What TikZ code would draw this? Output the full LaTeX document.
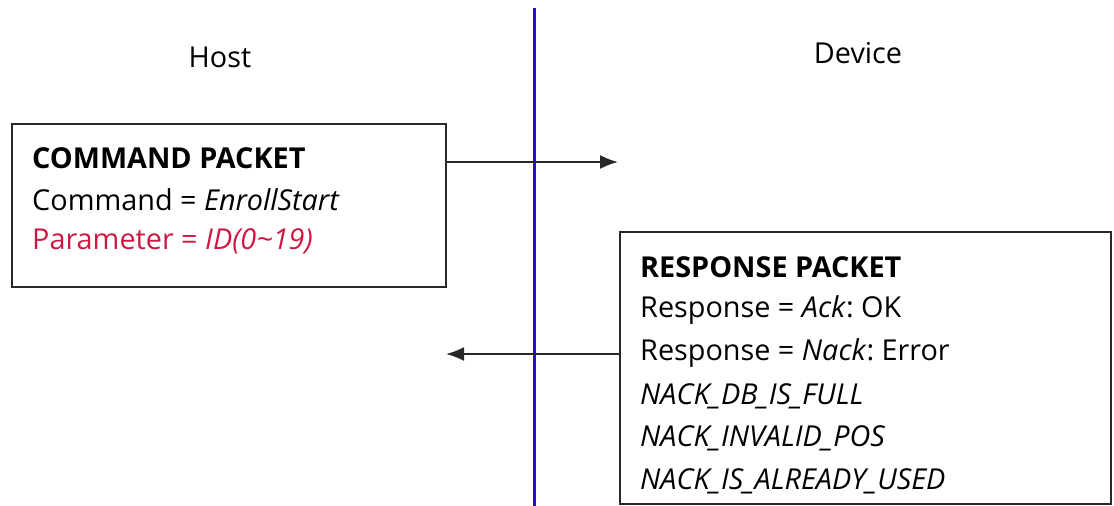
\documentclass[tikz,border=0pt]{standalone}
\usepackage{fontspec}
\setmainfont{Open Sans}
\usetikzlibrary{arrows.meta}
\definecolor{lineblue}{RGB}{40,20,185}
\definecolor{paramred}{RGB}{205,25,65}
\definecolor{boxgray}{RGB}{40,40,40}
\frenchspacing
\begin{document}
\begin{tikzpicture}[x=1pt,y=-1pt,
  packet/.style={draw=boxgray,line width=1.4pt,inner sep=0pt},
  txt/.style={anchor=west,inner sep=0pt,font=\fontsize{28.8}{32}\selectfont},
  lbl/.style={inner sep=0pt,font=\fontsize{28.8}{32}\selectfont},
  msg/.style={draw=boxgray,line width=1.8pt,-{Latex[length=18pt,width=14pt]}}]
\useasboundingbox (0,0) rectangle (1114,506);
% timeline
\coordinate (ltop) at (534,8);
\coordinate (lbot) at (534,506);
\draw[lineblue,line width=3pt] (ltop) -- (lbot);
% headers
\node[lbl] (host) at (220,57) {Host};
\node[lbl] (device) at (858,53) {Device};
% command box
\node[packet,minimum width=434pt,minimum height=163pt] (cmd) at (229,205.5) {};
\node[txt] (c1) at (32,158) {\textbf{COMMAND PACKET}};
\node[txt] (c2) at (32,200) {Command = \textit{EnrollStart}};
\node[txt,text=paramred] (c3) at (32,241) {Parameter = \textit{ID(0\char`~19)}};
% response box
\node[packet,minimum width=491pt,minimum height=272pt] (rsp) at (865.5,368) {};
\node[txt] (r1) at (640,267) {\textbf{RESPONSE PACKET}};
\node[txt] (r2) at (640,310) {Response = \textit{Ack}: OK};
\node[txt] (r3) at (640,353) {Response = \textit{Nack}: Error};
\node[txt] (r4) at (640,396) {\textit{NACK\_DB\_IS\_FULL}};
\node[txt] (r5) at (640,438) {\textit{NACK\_INVALID\_POS}};
\node[txt] (r6) at (640,481) {\textit{NACK\_IS\_ALREADY\_USED}};
% messages
\coordinate (cmdend) at (618,162);
\coordinate (rspend) at (446,354);
\draw[msg] (cmd.east |- cmdend) -- (cmdend);
\draw[msg] (rsp.west |- rspend) -- (rspend);
\end{tikzpicture}
\end{document}
